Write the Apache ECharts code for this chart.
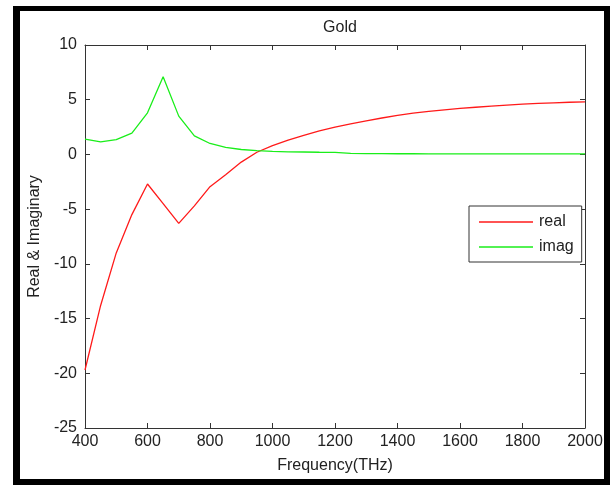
<!DOCTYPE html>
<html>
<head>
<meta charset="utf-8">
<script src="https://cdn.jsdelivr.net/npm/echarts@6/dist/echarts.min.js"></script>
<style>
  html, body { margin: 0; padding: 0; background: #fff; }
  #frame { position: absolute; left: 13px; top: 6px; width: 584px; height: 468px;
           border-style: solid; border-color: #000; border-width: 5px 6px 6px 7px; }
  #chart { position: absolute; left: 0; top: 0; width: 616px; height: 485px; }
</style>
</head>
<body>
<div id="frame"></div>
<div id="chart"></div>
<script>
  // frequency samples (THz)
  var freq = [400, 450, 500, 550, 600, 650, 700, 750, 800, 850, 900, 950, 1000,
    1050, 1100, 1150, 1200, 1250, 1300, 1350, 1400, 1450, 1500, 1550, 1600,
    1650, 1700, 1750, 1800, 1850, 1900, 1950, 2000];
  // real part of permittivity
  var realPart = [-19.7, -13.8, -9.0, -5.5, -2.7, -4.5, -6.3, -4.7, -2.95, -1.85, -0.7, 0.2, 0.8,
    1.3, 1.75, 2.15, 2.5, 2.8, 3.07, 3.33, 3.57, 3.77, 3.93, 4.08, 4.2,
    4.31, 4.41, 4.51, 4.6, 4.66, 4.72, 4.77, 4.8];
  // imaginary part
  var imagPart = [1.4, 1.15, 1.35, 1.95, 3.8, 7.1, 3.5, 1.7, 1.0, 0.65, 0.45, 0.35, 0.28,
    0.24, 0.22, 0.2, 0.19, 0.1, 0.08, 0.07, 0.06, 0.06, 0.05, 0.05, 0.05,
    0.05, 0.05, 0.05, 0.05, 0.05, 0.05, 0.05, 0.05];

  var seriesNames = ['real', 'imag'];
  var xTicks = { min: 400, max: 2000, step: 200 };
  var yTicks = { min: -25, max: 10, step: 5 };

  function pairs(ys) {
    return freq.map(function (f, i) { return [f, ys[i]]; });
  }
  function plain(v) { return String(v); }

  var textColor = '#222';
  var font = 'Liberation Sans, Arial, sans-serif';
  var axisLine = { show: true, onZero: false, lineStyle: { color: '#333', width: 1 } };
  var tickIn = { show: true, inside: true, length: 5, lineStyle: { color: '#333' } };

  var chart = echarts.init(document.getElementById('chart'));
  chart.setOption({
    animation: false,
    textStyle: { fontFamily: font, color: textColor },
    title: {
      text: 'Gold', left: 335, textAlign: 'center', top: 15,
      textStyle: { fontSize: 16, fontWeight: 'normal', color: textColor, fontFamily: font }
    },
    grid: { left: 85, right: 31, top: 45, bottom: 57 },
    legend: {
      orient: 'vertical', left: 469, top: 206,
      data: seriesNames, icon: 'rect',
      backgroundColor: '#fff', borderColor: '#333', borderWidth: 1, borderRadius: 0,
      padding: [8, 8, 7, 10], itemWidth: 54, itemHeight: 1.5, itemGap: 9,
      textStyle: { fontSize: 16, color: textColor, fontFamily: font, padding: [0, 0, 0, 1] }
    },
    xAxis: [{
      type: 'value', min: xTicks.min, max: xTicks.max, interval: xTicks.step,
      name: 'Frequency(THz)', nameLocation: 'middle', nameGap: 30,
      nameTextStyle: { fontSize: 16, color: textColor, fontFamily: font },
      axisLine: axisLine, axisTick: tickIn, splitLine: { show: false },
      axisLabel: { fontSize: 16, color: textColor, margin: 6, fontFamily: font, formatter: plain }
    }, {
      type: 'value', position: 'top', min: xTicks.min, max: xTicks.max, interval: xTicks.step,
      axisLine: axisLine, axisTick: tickIn, splitLine: { show: false },
      axisLabel: { show: false }
    }],
    yAxis: [{
      type: 'value', min: yTicks.min, max: yTicks.max, interval: yTicks.step,
      name: 'Real & Imaginary', nameLocation: 'middle', nameGap: 34, nameRotate: 90,
      nameTextStyle: { fontSize: 16, color: textColor, fontFamily: font },
      axisLine: axisLine, axisTick: tickIn, splitLine: { show: false },
      axisLabel: { fontSize: 16, color: textColor, margin: 8, fontFamily: font, formatter: plain }
    }, {
      type: 'value', position: 'right', min: yTicks.min, max: yTicks.max, interval: yTicks.step,
      axisLine: axisLine, axisTick: tickIn, splitLine: { show: false },
      axisLabel: { show: false }
    }],
    series: [{
      name: seriesNames[0], type: 'line', data: pairs(realPart),
      symbol: 'none', lineStyle: { color: '#ff1a1a', width: 1.3 }, itemStyle: { color: '#ff1a1a' }
    }, {
      name: seriesNames[1], type: 'line', data: pairs(imagPart),
      symbol: 'none', lineStyle: { color: '#1aee1a', width: 1.3 }, itemStyle: { color: '#1aee1a' }
    }]
  });
</script>
</body>
</html>
